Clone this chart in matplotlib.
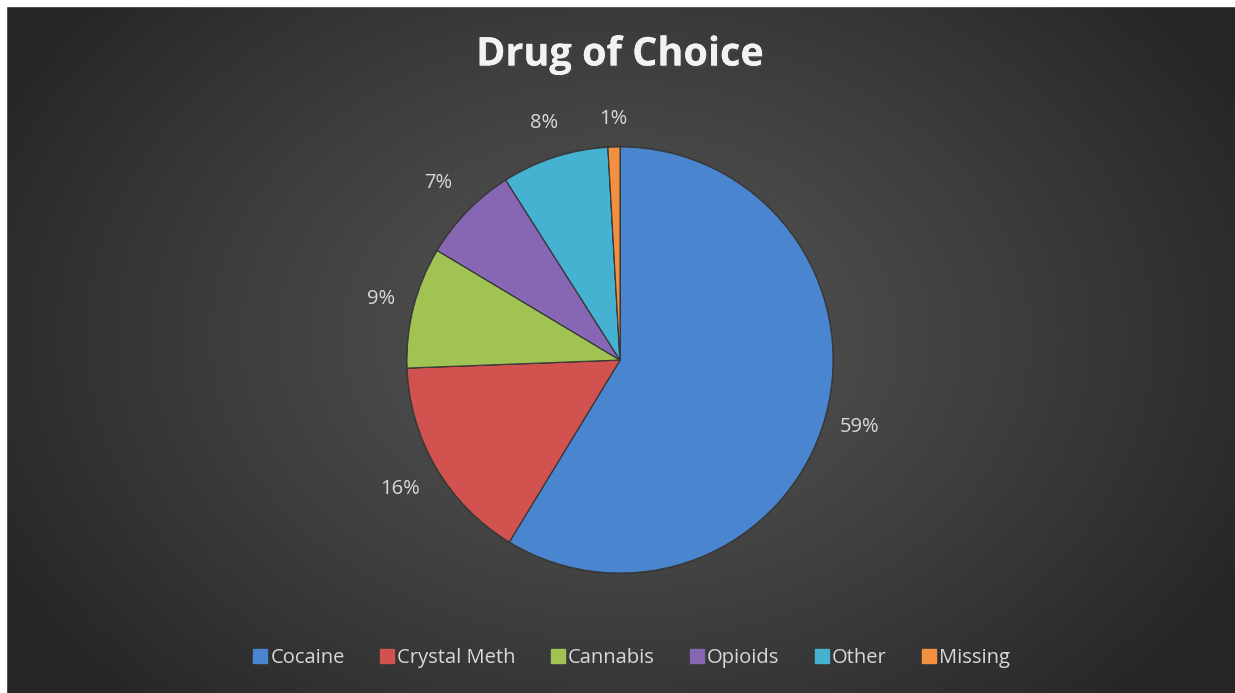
import numpy as np
import matplotlib.pyplot as plt
import matplotlib.patheffects as pe
from matplotlib.lines import Line2D
from matplotlib.patches import Rectangle

# slice data (clockwise from 12 o'clock)
drugs = ["Cocaine", "Crystal Meth", "Cannabis", "Opioids", "Other", "Missing"]
shares = [58.7, 15.7, 9.2, 7.4, 8.1, 0.9]
colors = ["#4a86cf", "#d2524f", "#a0c353", "#8767b3", "#45b2d2", "#f2903f"]
# how far out each percentage label sits (in pie radii)
label_dist = [1.17, 1.2, 1.16, 1.19, 1.17, 1.13]

W, H = 1235, 693
fig = plt.figure(figsize=(W / 100, H / 100), dpi=100, facecolor="#282828")

# dark radial gradient background
bg = fig.add_axes([0, 0, 1, 1])
bg.set_axis_off()
yy, xx = np.mgrid[0:H, 0:W]
d = np.sqrt(((xx - 620) / 700.0) ** 2 + ((yy - 336) / 520.0) ** 2)
d = np.clip(d, 0, 1)
shade = 0.33 - 0.18 * d ** 1.2
bg.imshow(np.dstack([shade] * 3), aspect="auto", extent=[0, 1, 0, 1])
bg.set_xlim(0, 1)
bg.set_ylim(0, 1)
# white strips along the top and left edges
bg.add_patch(Rectangle((0, 1 - 6 / H), 1, 6 / H, color="white", zorder=5))
bg.add_patch(Rectangle((0, 0), 6 / W, 1, color="white", zorder=5))

# pie axes: centre at (620, 360) px, radius 213 px
cx, cy, r = 620, 360, 213
ax = fig.add_axes([(cx - r) / W, (H - cy - r) / H, 2 * r / W, 2 * r / H])
ax.set_axis_off()
ax.patch.set_alpha(0)

wedges, texts, autotexts = ax.pie(
    shares, colors=colors, startangle=90, counterclock=False,
    autopct="%.0f%%", pctdistance=1.17, radius=1,
    wedgeprops=dict(edgecolor="#3a3a3a", linewidth=0.8),
    textprops=dict(color="#d9d9d9", fontsize=14.5, family="Open Sans"))
ax.set_xlim(-1, 1)
ax.set_ylim(-1, 1)

for w, t, dist in zip(wedges, autotexts, label_dist):
    mid = np.deg2rad((w.theta1 + w.theta2) / 2)
    t.set_position((dist * np.cos(mid), dist * np.sin(mid)))
    w.set_path_effects([pe.withStroke(linewidth=1.2, foreground="#00000055"), pe.Normal()])

fig.text(cx / W, 1 - 55 / H, "Drug of Choice", ha="center", va="center",
         fontsize=28.5, fontweight="bold", color="#f2f2f2", family="Open Sans",
         path_effects=[pe.withSimplePatchShadow(offset=(1.5, -1.5), alpha=0.6), pe.Normal()])

handles = [Line2D([], [], marker="s", linestyle="", markersize=10,
                  markerfacecolor=c, markeredgecolor=c) for c in colors]
leg = fig.legend(handles, drugs, loc="center", bbox_to_anchor=(632 / W, 1 - 658 / H),
                 ncol=6, frameon=False, handlelength=0.6, handletextpad=0.2,
                 columnspacing=1.8, prop=dict(family="Open Sans", size=14.5))
for t in leg.get_texts():
    t.set_color("#d9d9d9")

fig.savefig("out.png", dpi=100, facecolor=fig.get_facecolor())
